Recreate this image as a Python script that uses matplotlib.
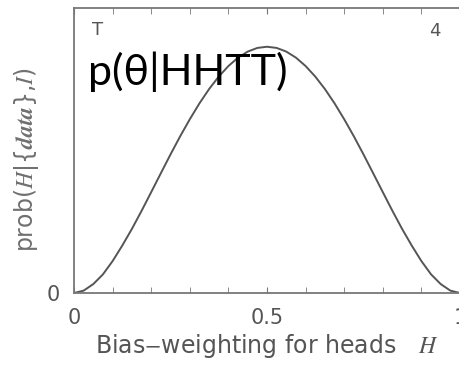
import matplotlib
matplotlib.use("Agg")
import matplotlib.pyplot as plt

plt.rcParams['mathtext.fontset'] = 'stix'

# posterior for the bias after seeing H, H, T, T (flat prior)
bias = [0.000, 0.025, 0.050, 0.075, 0.100, 0.125, 0.150, 0.175, 0.200, 0.225,
        0.250, 0.275, 0.300, 0.325, 0.350, 0.375, 0.400, 0.425, 0.450, 0.475,
        0.500, 0.525, 0.550, 0.575, 0.600, 0.625, 0.650, 0.675, 0.700, 0.725,
        0.750, 0.775, 0.800, 0.825, 0.850, 0.875, 0.900, 0.925, 0.950, 0.975,
        1.000]
posterior = [0.000, 0.018, 0.068, 0.142, 0.243, 0.361, 0.488, 0.625, 0.768, 0.912,
             1.055, 1.193, 1.323, 1.444, 1.553, 1.648, 1.728, 1.792, 1.838, 1.866,
             1.875, 1.866, 1.838, 1.792, 1.728, 1.648, 1.553, 1.444, 1.323, 1.193,
             1.055, 0.912, 0.768, 0.625, 0.488, 0.361, 0.243, 0.142, 0.068, 0.018,
             0.000]
x_ticks = [0, 0.5, 1]
x_ticklabels = ['0', '0.5', '1']

ink = '#555555'

fig = plt.figure(figsize=(4.59, 3.67), dpi=100)
ax = fig.add_axes([74 / 459, 74 / 367, 386 / 459, 285 / 367])

ax.plot(bias, posterior, color=ink, lw=1.4)
ax.set_xlim(0, 1)
ax.set_ylim(0, 2.17)

for s in ax.spines.values():
    s.set_color('#777777')
    s.set_linewidth(1.3)

ax.set_xticks([i / 10 for i in range(11)], minor=True)
ax.set_xticks(x_ticks)
ax.set_xticklabels(x_ticklabels)
ax.tick_params(axis='x', which='both', direction='in', top=True, length=4,
               color='#777777', labelsize=15, labelcolor=ink, pad=11)
ax.set_yticks([0])
ax.set_yticklabels(['0'])
ax.tick_params(axis='y', length=0, labelsize=15, labelcolor=ink, pad=10)

ax.set_xlabel(r'Bias$-$weighting for heads   $H$', fontsize=17, color=ink, labelpad=3)
ax.set_ylabel(r'prob($H$|{$\boldsymbol{data}$},$I$)', fontsize=17, color='#707070')
ax.yaxis.set_label_coords(-33 / 386, 0.47)

ax.text(0.06, 0.923, 'T', transform=ax.transAxes, fontsize=13, color=ink,
        va='center', ha='center')
ax.text(0.935, 0.92, '4', transform=ax.transAxes, fontsize=13, color=ink,
        va='center', ha='center')
ax.text(0.036, 0.73, 'p(θ|HHTT)', transform=ax.transAxes, fontsize=31,
        family='Lato', color='black', va='baseline')

fig.savefig('out.png', dpi=100)
